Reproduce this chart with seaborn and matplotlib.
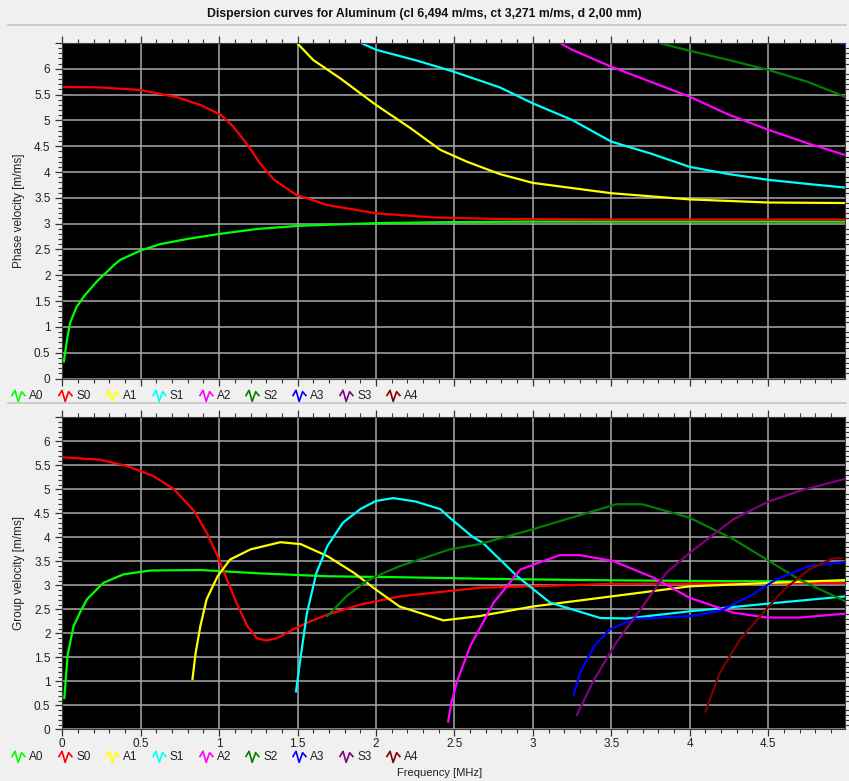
import numpy as np
import pandas as pd
import matplotlib
matplotlib.use("Agg")
import matplotlib.pyplot as plt
from matplotlib.lines import Line2D
from matplotlib.path import Path
from matplotlib.ticker import MultipleLocator, FuncFormatter
import seaborn as sns

# ---------------- data ----------------
modes = ["A0", "S0", "A1", "S1", "A2", "S2", "A3", "S3", "A4"]
mode_colors = ["#00ff00", "#ff0000", "#ffff00", "#00ffff", "#ff00ff",
               "#008000", "#0000ff", "#800080", "#800000"]

# Phase velocity [m/ms]
A0_phase_f = [0.01, 0.03, 0.05, 0.09, 0.14, 0.22, 0.33, 0.37, 0.5, 0.62, 0.79, 1.0, 1.25, 1.52, 2.0, 2.47, 3.0, 3.5, 4.0, 4.5, 4.99]
A0_phase_v = [0.33, 0.75, 1.08, 1.38, 1.6, 1.88, 2.2, 2.3, 2.48, 2.6, 2.70, 2.80, 2.9, 2.96, 3.01, 3.03, 3.04, 3.04, 3.04, 3.04, 3.04]
S0_phase_f = [0.0, 0.24, 0.5, 0.73, 0.88, 1.01, 1.09, 1.18, 1.26, 1.35, 1.49, 1.69, 2.0, 2.37, 2.79, 3.5, 4.0, 4.5, 4.99]
S0_phase_v = [5.65, 5.64, 5.59, 5.45, 5.30, 5.11, 4.88, 4.53, 4.17, 3.85, 3.56, 3.36, 3.20, 3.12, 3.09, 3.08, 3.08, 3.08, 3.08]
A1_phase_f = [1.49, 1.60, 1.77, 2.0, 2.22, 2.41, 2.58, 2.79, 3.0, 3.5, 4.0, 4.5, 4.99]
A1_phase_v = [6.52, 6.17, 5.82, 5.30, 4.85, 4.43, 4.20, 3.96, 3.79, 3.59, 3.47, 3.41, 3.40]
S1_phase_f = [1.89, 2.0, 2.26, 2.49, 2.79, 3.0, 3.25, 3.5, 3.75, 4.0, 4.25, 4.5, 4.75, 4.99]
S1_phase_v = [6.52, 6.37, 6.16, 5.95, 5.64, 5.33, 5.01, 4.59, 4.36, 4.10, 3.96, 3.85, 3.77, 3.70]
A2_phase_f = [3.16, 3.25, 3.5, 3.75, 4.0, 4.25, 4.5, 4.75, 4.99]
A2_phase_v = [6.52, 6.37, 6.04, 5.75, 5.46, 5.11, 4.82, 4.56, 4.33]
S2_phase_f = [3.78, 4.0, 4.25, 4.5, 4.75, 4.99]
S2_phase_v = [6.52, 6.35, 6.17, 5.98, 5.75, 5.46]
A3_phase_f = [4.93, 4.99]
A3_phase_v = [6.52, 6.47]

# Group velocity [m/ms]
A0_group_f = [0.013, 0.034, 0.072, 0.115, 0.157, 0.2, 0.26, 0.39, 0.56, 0.88, 1.26, 1.69, 2.15, 2.66, 3.34, 4.13, 4.99]
A0_group_v = [0.65, 1.55, 2.15, 2.45, 2.71, 2.85, 3.05, 3.23, 3.31, 3.32, 3.25, 3.19, 3.17, 3.14, 3.11, 3.09, 3.08]
S0_group_f = [0.0, 0.24, 0.41, 0.58, 0.71, 0.84, 0.92, 0.99, 1.05, 1.11, 1.18, 1.24, 1.30, 1.37, 1.47, 1.58, 1.69, 1.90, 2.15, 2.66, 3.49, 4.99]
S0_group_v = [5.67, 5.62, 5.49, 5.28, 5.01, 4.55, 4.10, 3.61, 3.12, 2.64, 2.15, 1.90, 1.85, 1.90, 2.08, 2.25, 2.39, 2.60, 2.77, 2.95, 3.03, 3.05]
A1_group_f = [0.83, 0.85, 0.88, 0.92, 0.99, 1.07, 1.20, 1.39, 1.52, 1.69, 1.86, 2.0, 2.15, 2.43, 2.66, 3.0, 3.5, 4.0, 4.5, 4.99]
A1_group_v = [1.05, 1.59, 2.15, 2.71, 3.19, 3.54, 3.75, 3.90, 3.86, 3.61, 3.26, 2.91, 2.56, 2.27, 2.36, 2.56, 2.77, 2.98, 3.05, 3.11]
S1_group_f = [1.49, 1.52, 1.56, 1.62, 1.69, 1.79, 1.90, 2.0, 2.11, 2.25, 2.41, 2.47, 2.62, 2.68, 2.9, 3.11, 3.43, 3.6, 4.0, 4.5, 4.99]
S1_group_v = [0.79, 1.52, 2.43, 3.26, 3.82, 4.31, 4.59, 4.76, 4.82, 4.75, 4.59, 4.41, 4.0, 3.89, 3.19, 2.64, 2.32, 2.31, 2.46, 2.62, 2.77]
A2_group_f = [2.46, 2.48, 2.52, 2.6, 2.75, 2.92, 3.17, 3.3, 3.51, 3.77, 4.0, 4.28, 4.49, 4.7, 4.99]
A2_group_v = [0.16, 0.55, 1.03, 1.73, 2.64, 3.33, 3.63, 3.63, 3.51, 3.16, 2.74, 2.43, 2.33, 2.33, 2.41]
S2_group_f = [1.69, 1.81, 1.94, 2.03, 2.15, 2.47, 2.66, 3.0, 3.53, 3.7, 4.0, 4.28, 4.49, 4.7, 4.99]
S2_group_v = [2.36, 2.77, 3.09, 3.23, 3.40, 3.75, 3.86, 4.17, 4.69, 4.69, 4.41, 3.96, 3.54, 3.12, 2.67]
A3_group_f = [3.26, 3.3, 3.39, 3.49, 3.64, 4.0, 4.19, 4.38, 4.55, 4.76, 4.99]
A3_group_v = [0.72, 1.17, 1.73, 2.08, 2.30, 2.36, 2.46, 2.77, 3.12, 3.40, 3.49]
S3_group_f = [3.28, 3.39, 3.53, 3.7, 3.85, 4.0, 4.28, 4.49, 4.7, 4.99]
S3_group_v = [0.30, 1.03, 1.80, 2.56, 3.26, 3.68, 4.38, 4.73, 4.97, 5.22]
A4_group_f = [4.10, 4.19, 4.32, 4.45, 4.6, 4.76, 4.91, 4.97]
A4_group_v = [0.37, 1.17, 1.87, 2.36, 2.91, 3.33, 3.56, 3.57]

title = "Dispersion curves for Aluminum (cl 6,494 m/ms, ct 3,271 m/ms, d 2,00 mm)"
phase_label = "Phase velocity [m/ms]"
group_label = "Group velocity [m/ms]"
x_label = "Frequency [MHz]"

phase_series = {
    "A0": (A0_phase_f, A0_phase_v), "S0": (S0_phase_f, S0_phase_v),
    "A1": (A1_phase_f, A1_phase_v), "S1": (S1_phase_f, S1_phase_v),
    "A2": (A2_phase_f, A2_phase_v), "S2": (S2_phase_f, S2_phase_v),
    "A3": (A3_phase_f, A3_phase_v),
}
group_series = {
    "A0": (A0_group_f, A0_group_v), "S0": (S0_group_f, S0_group_v),
    "A1": (A1_group_f, A1_group_v), "S1": (S1_group_f, S1_group_v),
    "A2": (A2_group_f, A2_group_v), "S2": (S2_group_f, S2_group_v),
    "A3": (A3_group_f, A3_group_v), "S3": (S3_group_f, S3_group_v),
    "A4": (A4_group_f, A4_group_v),
}


def to_frame(series):
    rows = []
    for m, (fs, vs) in series.items():
        for f, v in zip(fs, vs):
            rows.append({"mode": m, "f": f, "v": v})
    return pd.DataFrame(rows)


phase_df = to_frame(phase_series)
group_df = to_frame(group_series)
palette = dict(zip(modes, mode_colors))

# ---------------- style ----------------
BG = "#f0f0f0"
plt.rcParams["font.family"] = ["Liberation Sans", "DejaVu Sans"]
plt.rcParams["axes.linewidth"] = 0.8

W, H = 849, 781
fig = plt.figure(figsize=(W / 100, H / 100), dpi=100, facecolor=BG)

XL, XR = 62.3, 845.0
ax_top = fig.add_axes([XL / W, 1 - 378.5 / H, (XR - XL) / W, (378.5 - 42.5) / H])
ax_bot = fig.add_axes([XL / W, 1 - 729.3 / H, (XR - XL) / W, (729.3 - 417.0) / H])

xfmt = FuncFormatter(lambda x, p: f"{x:g}")
yfmt = FuncFormatter(lambda x, p: "" if x > 6.25 else f"{x:g}")

for ax, df, ylab in [(ax_top, phase_df, phase_label), (ax_bot, group_df, group_label)]:
    ax.set_facecolor("black")
    sns.lineplot(data=df, x="f", y="v", hue="mode", hue_order=[m for m in modes if m in set(df["mode"])],
                 palette=palette, sort=False, estimator=None, legend=False,
                 linewidth=1.6, ax=ax)
    ax.set_xlim(0, 4.99)
    ax.set_ylim(0, 6.51)
    ax.xaxis.set_major_locator(MultipleLocator(0.5))
    ax.xaxis.set_minor_locator(MultipleLocator(0.1))
    ax.yaxis.set_major_locator(MultipleLocator(0.5))
    ax.yaxis.set_minor_locator(MultipleLocator(0.1))
    ax.xaxis.set_major_formatter(xfmt)
    ax.yaxis.set_major_formatter(yfmt)
    ax.grid(True, which="major", color="#a9a9a9", linewidth=1.1)
    ax.set_axisbelow(True)
    ax.tick_params(which="both", direction="out", colors="#333333", labelcolor="#202020",
                   labelsize=8.5, top=True, bottom=True, left=True, right=True)
    ax.tick_params(which="major", length=5, width=0.9)
    ax.tick_params(which="minor", length=3, width=0.8)
    ax.tick_params(axis="y", which="major", right=False)
    ax.tick_params(axis="x", which="major", pad=1.5)
    for s in ax.spines.values():
        s.set_color("#404040")
    ax.set_xlabel("")
    ax.set_ylabel(ylab, fontsize=8.5, color="#202020")
    ax.yaxis.set_label_coords(-0.048, 0.5)

ax_top.tick_params(axis="x", labelbottom=False)

# title and separators
fig.text(0.5, 1 - 14 / H, title, ha="center", va="center", fontsize=8.8, fontweight="bold", color="#111111")
for ypx in (25, 403):
    fig.add_artist(Line2D([8 / W, 1 - 3 / W], [1 - ypx / H, 1 - ypx / H], transform=fig.transFigure,
                          color="#c4c4c4", linewidth=1.2))

# legends with squiggle icons
squiggle = Path([(-1.0, -0.1), (-0.5, 0.75), (-0.05, -0.85), (0.45, 0.55), (1.0, -0.1)])


def make_handles():
    return [Line2D([], [], color=c, marker=squiggle, linestyle="none", markersize=10,
                   markeredgewidth=1.2, markerfacecolor="none") for c in mode_colors]


for ypx in (396, 757):
    fig.legend(make_handles(), modes, loc="center left", bbox_to_anchor=(12 / W, 1 - ypx / H),
               ncol=9, frameon=False, fontsize=8.5, handlelength=1.0, handletextpad=0.45,
               columnspacing=1.3, borderaxespad=0, borderpad=0, labelcolor="#202020")

fig.text(440 / W, 1 - 773 / H, x_label, ha="center", va="center", fontsize=8, color="#202020")

fig.savefig("out.png", dpi=100, facecolor=BG)
